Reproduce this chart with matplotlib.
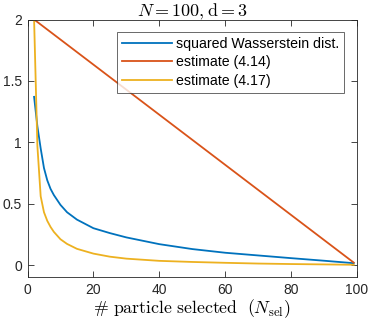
import matplotlib
matplotlib.use("Agg")
import matplotlib.pyplot as plt

plt.rcParams["mathtext.fontset"] = "cm"
plt.rcParams["font.family"] = ["Liberation Sans", "DejaVu Sans"]

# values
n_sel = [2, 3, 4, 5, 6, 7, 8, 10, 12, 15, 20, 25, 30, 40, 50, 60, 70, 80, 90, 99]
wasserstein = [1.37, 1.13, 0.95, 0.79, 0.69, 0.62, 0.57, 0.49, 0.43, 0.37,
               0.30, 0.26, 0.225, 0.17, 0.13, 0.10, 0.078, 0.056, 0.035, 0.015]
est_414_n = [2, 99]
est_414 = [2.0, 0.02]
est_417 = [2.0, 0.97, 0.56, 0.43, 0.36, 0.31, 0.27, 0.21, 0.172, 0.132,
           0.093, 0.068, 0.052, 0.034, 0.025, 0.018, 0.012, 0.008, 0.005, 0.002]

xticks = [0, 20, 40, 60, 80, 100]
yticks = [0, 0.5, 1, 1.5, 2]
ytick_labels = ["0", "0.5", "1", "1.5", "2"]

blue = (0.0, 0.447, 0.741)
red = (0.85, 0.325, 0.098)
yellow = (0.929, 0.694, 0.125)
dark = (0.15, 0.15, 0.15)


def main():
    fig = plt.figure(figsize=(3.72, 3.27), dpi=100)
    ax = fig.add_axes([27.5 / 372, 1 - 277.3 / 327, (357 - 27.5) / 372, (277.3 - 19.5) / 327])

    ax.plot(n_sel, wasserstein, color=blue, lw=1.3, label="squared Wasserstein dist.")
    ax.plot(est_414_n, est_414, color=red, lw=1.3, label="estimate (4.14)")
    ax.plot(n_sel, est_417, color=yellow, lw=1.3, label="estimate (4.17)")

    ax.set_xlim(0, 100)
    ax.set_ylim(-0.1, 2)
    ax.set_xticks(xticks)
    ax.set_yticks(yticks)
    ax.set_yticklabels(ytick_labels)
    ax.tick_params(direction="in", top=True, right=True, length=4, width=0.6,
                   labelsize=10, colors=dark, pad=4)
    for s in ax.spines.values():
        s.set_color(dark)
        s.set_linewidth(0.6)

    ax.set_title(r"$N = 100, \mathrm{d} = 3$", fontsize=13, pad=2)
    ax.set_xlabel(r"$\#\ \mathrm{particle\ selected}\ \ (N_{\mathrm{sel}})$",
                  fontsize=12.8, labelpad=0)

    leg = ax.legend(loc="upper right", fontsize=10.2, frameon=True, fancybox=False,
                    edgecolor=dark, handlelength=3.5, handletextpad=0.3,
                    borderpad=0.35, labelspacing=0.3, borderaxespad=0.9)
    leg.get_frame().set_linewidth(0.6)

    fig.savefig("out.png", dpi=100)


if __name__ == "__main__":
    main()
